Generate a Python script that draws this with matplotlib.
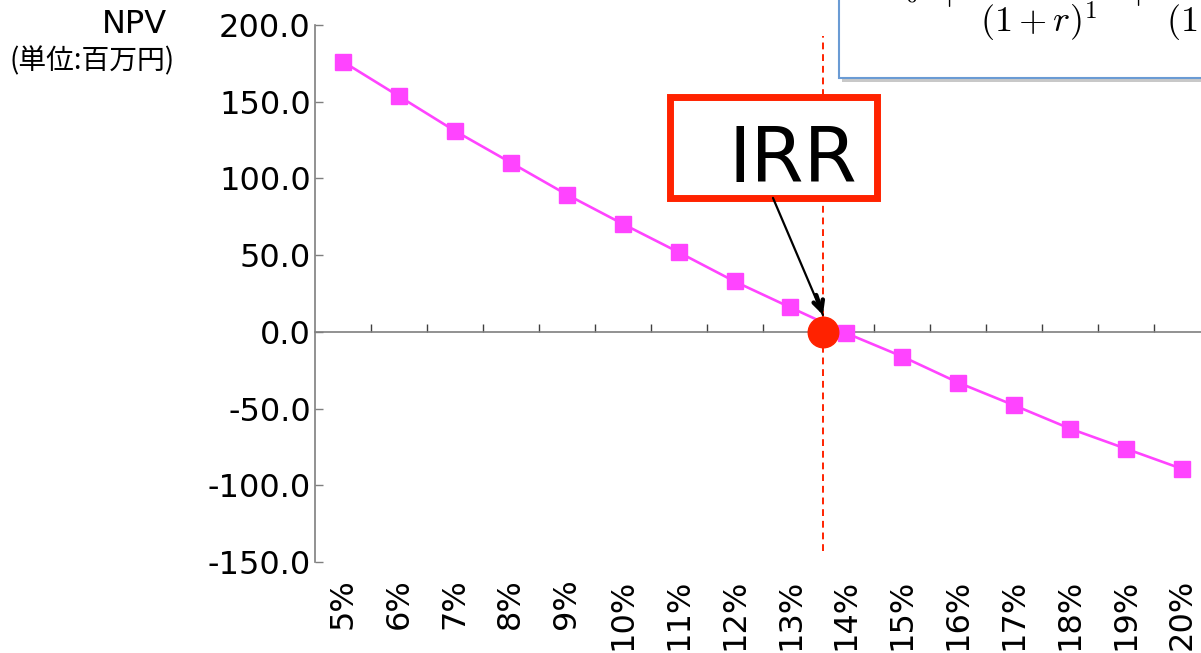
import numpy as np
import matplotlib
matplotlib.use('Agg')
import matplotlib.pyplot as plt
from matplotlib.patches import Rectangle

# Discount rates and NPV (million yen)
rates = ['5%', '6%', '7%', '8%', '9%', '10%', '11%', '12%',
         '13%', '14%', '15%', '16%', '17%', '18%', '19%', '20%']
npv = [176.1, 153.6, 131.0, 110.3, 89.5, 70.4, 51.9, 32.9,
       15.9, -0.9, -16.1, -33.1, -47.9, -63.1, -76.2, -89.3]
irr_pos = 8.58   # position of IRR on the category axis (~13.6%)
y_ticks = [-150, -100, -50, 0, 50, 100, 150, 200]

plt.rcParams['font.family'] = ['DejaVu Sans', 'Noto Sans CJK JP']
plt.rcParams['axes.unicode_minus'] = False
plt.rcParams['mathtext.fontset'] = 'cm'

W, H = 1201, 653
fig = plt.figure(figsize=(W / 100, H / 100), dpi=100)
ax = fig.add_axes([315 / W, 1 - 562 / H, 895 / W, 537 / H])

gray = '#7f7f7f'
pink = '#ff44ff'
red = '#ff2200'
x = np.arange(len(rates))

ax.plot(x, npv, color=pink, linewidth=1.9, marker='s', markersize=11.5,
        markeredgecolor=pink, zorder=4)

ax.set_xlim(-0.5, len(rates) - 0.5)
ax.set_ylim(-150, 200)
ax.set_yticks(y_ticks)
ax.set_yticklabels(['%.1f' % v for v in y_ticks])
ax.set_xticks(x)
ax.set_xticklabels(rates, rotation=90, ha='center', va='top')

for s in ['top', 'right', 'bottom']:
    ax.spines[s].set_visible(False)
ax.spines['left'].set_color(gray)
ax.spines['left'].set_linewidth(1.2)
ax.tick_params(axis='y', direction='in', length=6, width=1, color=gray,
               labelsize=23, pad=3)
ax.tick_params(axis='x', length=0, labelsize=23, pad=12)

# zero line with category boundary ticks
zero_ax = ax.secondary_xaxis(0, transform=ax.transData)
zero_ax.set_xticks(np.arange(0.5, len(rates) - 1))
zero_ax.tick_params(direction='in', length=6, width=1, color='#404040',
                    labelbottom=False)
zero_ax.spines['bottom'].set_color(gray)
zero_ax.spines['bottom'].set_linewidth(1.2)

# IRR marker
ax.axvline(irr_pos, ymin=0.02, ymax=0.98, color=red, linewidth=1.4,
           linestyle=(0, (3.5, 2.5)), zorder=3)
ax.plot([irr_pos], [0], 'o', color=red, markersize=22, zorder=5)

ax.add_patch(Rectangle((0.3972, 0.678), 0.2302, 0.188, transform=ax.transAxes,
                       facecolor='white', edgecolor=red, linewidth=5,
                       clip_on=False, zorder=6))
ax.text(0.534, 0.7076, 'IRR', transform=ax.transAxes, fontsize=55,
        ha='center', va='baseline', zorder=7)
arrow_start = (0.5117, 0.678)
ax.annotate('', xy=(irr_pos, 11), xycoords='data',
            xytext=arrow_start, textcoords='axes fraction',
            arrowprops=dict(arrowstyle='-', color='black', lw=1.6,
                            shrinkA=0, shrinkB=0),
            zorder=8)
ax.annotate('', xy=(irr_pos, 11), xycoords='data',
            xytext=(irr_pos - 0.12, 24), textcoords='data',
            arrowprops=dict(arrowstyle='->,head_length=0.7,head_width=0.35',
                            color='black', lw=3.2, shrinkA=0, shrinkB=0,
                            capstyle='round', joinstyle='round'),
            zorder=8)

# y axis title
fig.text(167 / W, 1 - 33 / H, 'NPV', fontsize=23, ha='right', va='baseline')
fig.text(175 / W, 1 - 69 / H, '(単位:百万円)', fontsize=20, ha='right',
         va='baseline', family=['Noto Sans CJK JP', 'DejaVu Sans'])

# formula box (cropped at top right)
fig.patches.append(Rectangle((842 / W, 1 - 82 / H), 0.4, 0.2,
                             transform=fig.transFigure, facecolor='#c8c8c8',
                             edgecolor='none', zorder=1))
fig.patches.append(Rectangle((839 / W, 1 - 78 / H), 0.4, 0.2,
                             transform=fig.transFigure, facecolor='white',
                             edgecolor='#6a9bd4', linewidth=1.5, zorder=2))
fig.text(881 / W, 1 + 2 / H, r'$C_0$', fontsize=25, ha='left',
         va='baseline', zorder=3)
fig.text(949 / W, 1 + 6 / H, r'$+$', fontsize=25, ha='center',
         va='center', zorder=3)
fig.text(1138 / W, 1 + 7 / H, r'$+$', fontsize=25, ha='center',
         va='center', zorder=3)
fig.text(980 / W, 1 - 44 / H, r'$(1+r)^1$', fontsize=26, ha='left',
         va='bottom', zorder=3)
fig.text(1166 / W, 1 - 44 / H, r'$(1+r)^2$', fontsize=26, ha='left',
         va='bottom', zorder=3)

fig.savefig('out.png', dpi=100)
